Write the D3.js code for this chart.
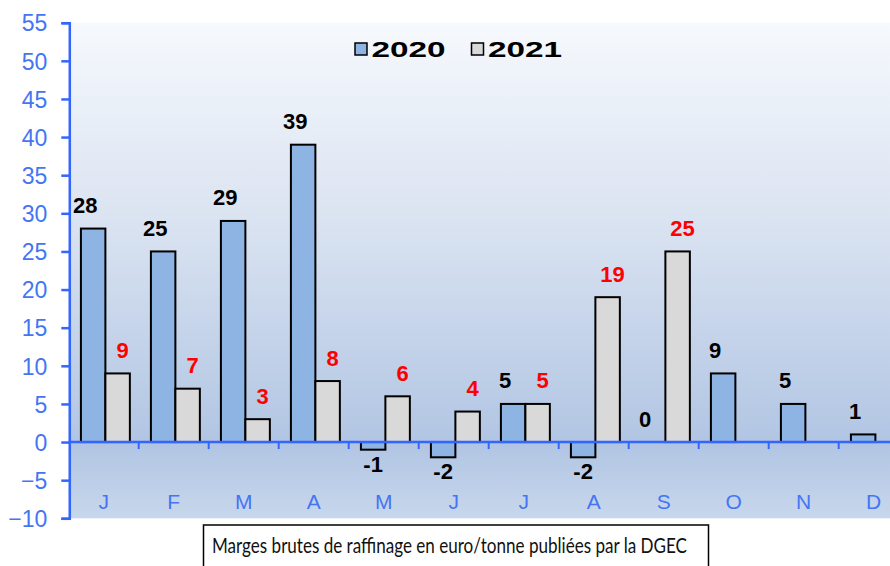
<!DOCTYPE html>
<html>
<head>
<meta charset="utf-8">
<script src="https://cdnjs.cloudflare.com/ajax/libs/d3/7.8.5/d3.min.js"></script>
<style>
  body { margin: 0; background: #fff; }
  svg { display: block; font-family: "Liberation Sans", Arial, sans-serif; }
</style>
</head>
<body>
<svg id="chart" width="890" height="566"></svg>
<script>
var months = ["J", "F", "M", "A", "M", "J", "J", "A", "S", "O", "N", "D"];
var series = ["2020", "2021"];
var values2020 = [28, 25, 29, 39, -1, -2, 5, -2, 0, 9, 5, 1];
var values2021 = [9, 7, 3, 8, 6, 4, 5, 19, 25, null, null, null];
var yTicks = [-10, -5, 0, 5, 10, 15, 20, 25, 30, 35, 40, 45, 50, 55];
var caption = "Marges brutes de raffinage en euro/tonne publiées par la DGEC";

var svg = d3.select("#chart"),
    plotLeft = 68.7, plotRight = 908.7, plotTop = 22.7, plotBottom = 518.3;

var colors = {"2020": "#8eb4e3", "2021": "#d9d9d9"};
var labelColors = {"2020": "#000", "2021": "#ff0000"};
var blue = "#3366ff", tickBlue = "#4575f3";

// category index used as band key (month letters repeat)
var x0 = d3.scaleBand().domain(d3.range(months.length)).range([plotLeft, plotRight]);
var x1 = d3.scaleBand().domain(series).range([0, x0.bandwidth()]).paddingOuter(0.43).align(0.58);
var y = d3.scaleLinear().domain([-10, 55]).range([plotBottom, plotTop]);

var rows = months.map(function(m, i) {
  return {i: i, month: m, vals: [
    {s: "2020", v: values2020[i]},
    {s: "2021", v: values2021[i]}
  ]};
});

// background gradient
var defs = svg.append("defs");
var grad = defs.append("linearGradient").attr("id", "bg")
  .attr("x1", 0).attr("y1", 0).attr("x2", 0).attr("y2", 1);
grad.append("stop").attr("offset", "0%").attr("stop-color", "#f6f9fd");
grad.append("stop").attr("offset", "40%").attr("stop-color", "#dae3f1");
grad.append("stop").attr("offset", "85%").attr("stop-color", "#b1c5e3");
grad.append("stop").attr("offset", "100%").attr("stop-color", "#c7d7ec");

svg.append("rect")
  .attr("x", plotLeft).attr("y", plotTop)
  .attr("width", plotRight - plotLeft).attr("height", plotBottom - plotTop)
  .attr("fill", "url(#bg)");

// bars
var g = svg.selectAll(".month")
  .data(rows)
  .enter().append("g")
  .attr("class", "month")
  .attr("transform", function(d) { return "translate(" + x0(d.i) + ",0)"; });

var bars = g.selectAll(".bar")
  .data(function(d) { return d.vals.filter(function(e) { return e.v !== null; }); })
  .enter();

bars.append("rect")
  .attr("class", "bar")
  .attr("x", function(d) { return x1(d.s); })
  .attr("width", x1.bandwidth())
  .attr("y", function(d) { return y(Math.max(0, d.v)); })
  .attr("height", function(d) { return Math.abs(y(d.v) - y(0)); })
  .attr("fill", function(d) { return colors[d.s]; })
  .attr("stroke", "#000")
  .attr("stroke-width", 2);

bars.append("text")
  .attr("x", function(d) {
    var c = x1(d.s) + x1.bandwidth() / 2;
    if (d.v < 0) return c;
    return d.s == "2020" ? c - 8 : c + 5;
  })
  .attr("y", function(d) { return d.v < 0 ? y(d.v) + 22 : y(d.v) - 15.5; })
  .attr("text-anchor", "middle")
  .style("font-size", "22px")
  .style("font-weight", "bold")
  .attr("fill", function(d) { return labelColors[d.s]; })
  .text(function(d) { return d.v; });

// y axis
var yAxis = svg.append("g")
  .attr("transform", "translate(" + (plotLeft + 0.6) + ",0)")
  .call(d3.axisLeft(y).tickValues(yTicks).tickSize(8).tickPadding(14));
yAxis.select(".domain").attr("stroke", blue).attr("stroke-width", 2.5);
yAxis.selectAll(".tick line").attr("stroke", blue).attr("stroke-width", 2.5);
yAxis.selectAll(".tick text")
  .attr("fill", tickBlue)
  .style("font-size", "23px")
  .style("font-family", "'Liberation Sans', Arial, sans-serif")
  .attr("dy", "0.36em");

// zero line with category ticks
svg.append("line")
  .attr("x1", plotLeft).attr("x2", plotRight)
  .attr("y1", y(0)).attr("y2", y(0))
  .attr("stroke", blue).attr("stroke-width", 2.5);

svg.selectAll(".xtick")
  .data(d3.range(1, months.length))
  .enter().append("line")
  .attr("x1", function(d) { return x0(d); })
  .attr("x2", function(d) { return x0(d); })
  .attr("y1", y(0)).attr("y2", y(0) + 7)
  .attr("stroke", blue).attr("stroke-width", 2);

svg.selectAll(".mlabel")
  .data(rows)
  .enter().append("text")
  .attr("x", function(d) { return x0(d.i) + x0.bandwidth() / 2; })
  .attr("y", 508.5)
  .attr("text-anchor", "middle")
  .attr("fill", tickBlue)
  .style("font-size", "21px")
  .text(function(d) { return d.month; });

// legend
var legend = svg.append("g");
var legX = [355, 471.5];
series.forEach(function(s, i) {
  legend.append("rect")
    .attr("x", legX[i]).attr("y", 43)
    .attr("width", 12).attr("height", 12)
    .attr("fill", colors[s])
    .attr("stroke", "#000").attr("stroke-width", 1.5);
  legend.append("text")
    .attr("x", legX[i] + 16.5).attr("y", 56.5)
    .attr("textLength", 74).attr("lengthAdjust", "spacingAndGlyphs")
    .style("font-size", "22px").style("font-weight", "bold")
    .text(s);
});

// caption box
svg.append("rect")
  .attr("x", 203.5).attr("y", 525)
  .attr("width", 505).attr("height", 60)
  .attr("fill", "#fff")
  .attr("stroke", "#000").attr("stroke-width", 1.5);
svg.append("text")
  .attr("x", 212).attr("y", 553)
  .attr("textLength", 475).attr("lengthAdjust", "spacingAndGlyphs")
  .style("font-family", "Lato, 'Open Sans', sans-serif")
  .style("font-size", "21px")
  .attr("fill", "#111")
  .text(caption);
</script>
</body>
</html>
